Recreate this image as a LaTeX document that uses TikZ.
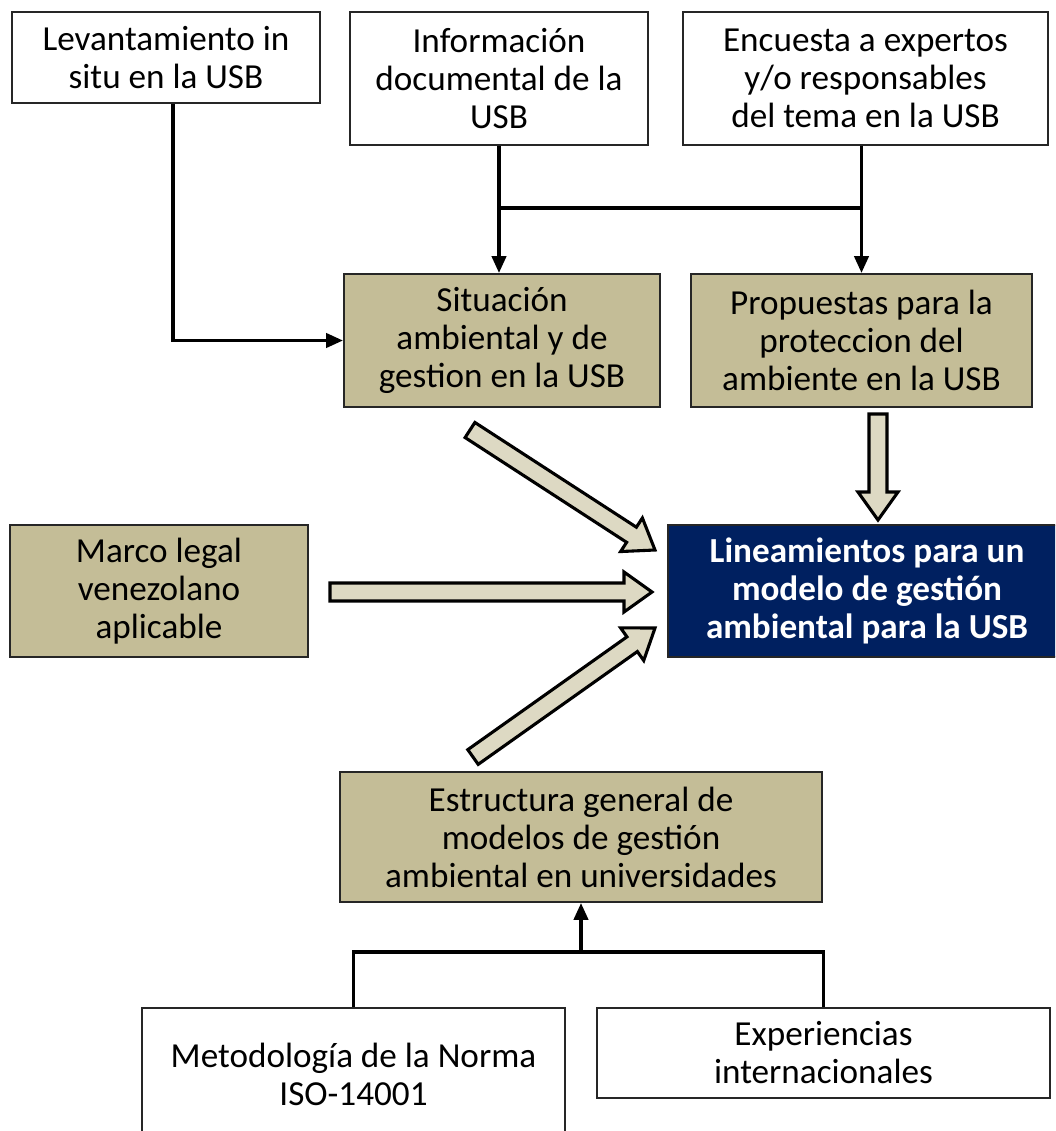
\documentclass[tikz,border=0pt]{standalone}
\usepackage{fontspec}
\setmainfont{Carlito}
\usetikzlibrary{arrows.meta, calc}

\definecolor{tanbox}{HTML}{C4BD97}
\definecolor{arrowfill}{HTML}{DDD9C3}
\definecolor{usbnavy}{HTML}{002060}

% wide hollow arrow between two named coordinates
\newcommand{\fatarrow}[2]{%
  \coordinate (fa-h) at ($(#2)!0.7cm!(#1)$);
  \draw[fatline] ($(#1)!0.225cm!90:(#2)$) -- ($(fa-h)!0.225cm!90:(#2)$)
    -- ($(fa-h)!0.5cm!90:(#2)$) -- (#2) -- ($(fa-h)!0.5cm!-90:(#2)$)
    -- ($(fa-h)!0.225cm!-90:(#2)$) -- ($(#1)!0.225cm!-90:(#2)$) -- cycle;
}

\begin{document}
\begin{tikzpicture}[x=0.025cm, y=-0.025cm,
    every node/.style={font=\fontsize{25}{27}\selectfont, align=center, inner sep=0pt},
    plainbox/.style={draw=black!85, line width=1.3pt, fill=white},
    tanbox/.style={draw=black!85, line width=1.3pt, fill=tanbox},
    goalbox/.style={draw=black!85, line width=1.3pt, fill=usbnavy, text=white,
        font=\fontsize{25}{27}\selectfont\bfseries},
    wire/.style={line width=2.6pt},
    link/.style={line width=2.6pt, -{Triangle[length=12pt, width=10pt]}},
    fatline/.style={draw=black, line width=2.2pt, fill=arrowfill}]

    \useasboundingbox (0,0) rectangle (1055,1131);
    \clip (0,0) rectangle (1055,1131);

    % sources
    \node[plainbox, minimum width=7.7cm, minimum height=2.275cm] (lev) at (166,57.5)
        {Levantamiento in\\situ en la USB};
    \node[plainbox, minimum width=7.45cm, minimum height=3.325cm] (info) at (499,78.5)
        {Información\\documental de la\\USB};
    \node[plainbox, minimum width=9.125cm, minimum height=3.325cm] (enc) at (865.5,78.5)
        {Encuesta a expertos\\y/o responsables\\del tema en la USB};

    % results
    \node[tanbox, minimum width=7.9cm, minimum height=3.325cm] (sit) at (502,340.5)
        {Situación\\ambiental y de\\gestion en la USB};
    \node[tanbox, minimum width=8.525cm, minimum height=3.325cm] (prop) at (861.5,340.5)
        {Propuestas para la\\proteccion del\\ambiente en la USB};
    \node[tanbox, minimum width=7.45cm, minimum height=3.3cm] (marco) at (159,591)
        {Marco legal\\venezolano\\aplicable};
    \node[goalbox, minimum width=9.95cm, minimum height=3.3cm] (lin) at (867,591)
        {Lineamientos para un\\modelo de gestión\\ambiental para la USB};
    \node[tanbox, minimum width=12.05cm, minimum height=3.25cm] (est) at (581,837)
        {Estructura general de\\modelos de gestión\\ambiental en universidades};

    % bottom sources
    \node[plainbox, minimum width=10.575cm, minimum height=3.3cm] (met) at (353.5,1074)
        {Metodología de la Norma\\ISO-14001};
    \node[plainbox, minimum width=11.325cm, minimum height=2.25cm] (exp) at (823.5,1053)
        {Experiencias\\internacionales};

    % thin connectors
    \draw[link] ([xshift=0.175cm]lev.south) |- (sit.west);
    \draw[link] (info.south) -- (info.south |- sit.north);
    \draw[link] (enc.south -| prop.north) -- (prop.north);
    \draw[wire] (info.south |- 0,208) -- (prop.north |- 0,208);

    \draw[wire] (met.north) -- (met.north |- 0,952) -- (exp.north |- 0,952) -- (exp.north);
    \draw[link] (est.south |- 0,952) -- (est.south);

    % wide arrows into the goal
    \coordinate (sit-tail) at (470,430);
    \coordinate (sit-tip) at (655,550);
    \coordinate (prop-tail) at (878,414);
    \coordinate (prop-tip) at (878,520);
    \coordinate (marco-tail) at (330,592);
    \coordinate (marco-tip) at (652,592);
    \coordinate (est-tail) at (473,757);
    \coordinate (est-tip) at (655,628);

    \fatarrow{sit-tail}{sit-tip}
    \fatarrow{prop-tail}{prop-tip}
    \fatarrow{marco-tail}{marco-tip}
    \fatarrow{est-tail}{est-tip}
\end{tikzpicture}
\end{document}
